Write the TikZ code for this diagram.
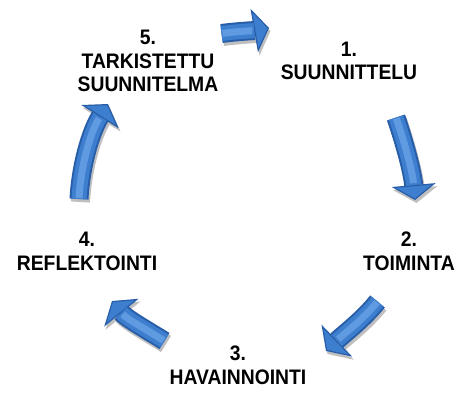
\documentclass[tikz,border=0pt]{standalone}
\usepackage{fontspec}
\setmainfont[FakeStretch=0.92]{Liberation Sans}
\usetikzlibrary{arrows.meta}
\definecolor{arrdark}{RGB}{40,94,168}
\definecolor{arrmid}{RGB}{62,126,206}
\definecolor{arrlight}{RGB}{96,154,224}
\tikzset{
  lbl/.style={align=center, font=\fontsize{21}{23.5}\selectfont\bfseries, inner sep=0pt},
  arrouter/.style={draw=arrdark, line width=19pt,
    -{Triangle[width=44pt,length=15pt,fill=arrmid,line width=1.2pt]}},
  arrinner/.style={draw=arrmid, line width=15pt, shorten >=15pt},
  arrhigh/.style={draw=arrlight, line width=7pt, shorten >=17pt, shorten <=1pt},
  arrshadow/.style={draw=black, line width=19pt, -{Triangle[width=44pt,length=15pt]}}
}
\newcommand\cyclearrow[4]{%
  \begin{scope}[transform canvas={shift={(1.5pt,-3pt)}}]
    \begin{scope}[transparency group, opacity=0.25]
      \draw[arrshadow] (#1) .. controls #2 and #3 .. (#4);
    \end{scope}
  \end{scope}
  \draw[arrouter] (#1) .. controls #2 and #3 .. (#4);
  \draw[arrinner] (#1) .. controls #2 and #3 .. (#4);
  \draw[arrhigh] (#1) .. controls #2 and #3 .. (#4);
}
\begin{document}
\begin{tikzpicture}[x=1pt,y=-1pt]
\useasboundingbox (0,0) rectangle (456,392);
% labels
\node[lbl] (s1) at (349,61) {1.\\SUUNNITTELU};
\node[lbl] (s2) at (409,251.5) {2.\\TOIMINTA};
\node[lbl] (s3) at (238,365.5) {3.\\HAVAINNOINTI};
\node[lbl] (s4) at (87,251.5) {4.\\REFLEKTOINTI};
\node[lbl] (s5) at (148,61) {5.\\TARKISTETTU\\SUUNNITELMA};
% arrow end points
\coordinate (a1t) at (221.5,33.5); \coordinate (a1h) at (269,28);
\coordinate (a2t) at (396,117.5);  \coordinate (a2h) at (415,200);
\coordinate (a3t) at (377.5,301.5);\coordinate (a3h) at (326,351);
\coordinate (a4t) at (164.5,341);  \coordinate (a4h) at (112,301);
\coordinate (a5t) at (79,199);     \coordinate (a5h) at (108,104);
% arrows
\cyclearrow{a1t}{(237.3,31.4)}{(253.3,30.7)}{a1h}
\cyclearrow{a2t}{(405,144.1)}{(412.5,172)}{a2h}
\cyclearrow{a3t}{(362.9,319.8)}{(343.9,333.8)}{a3h}
\cyclearrow{a4t}{(146.2,329.6)}{(125.9,318.2)}{a4h}
\cyclearrow{a5t}{(80.7,166)}{(90.5,132)}{a5h}
\end{tikzpicture}
\end{document}
